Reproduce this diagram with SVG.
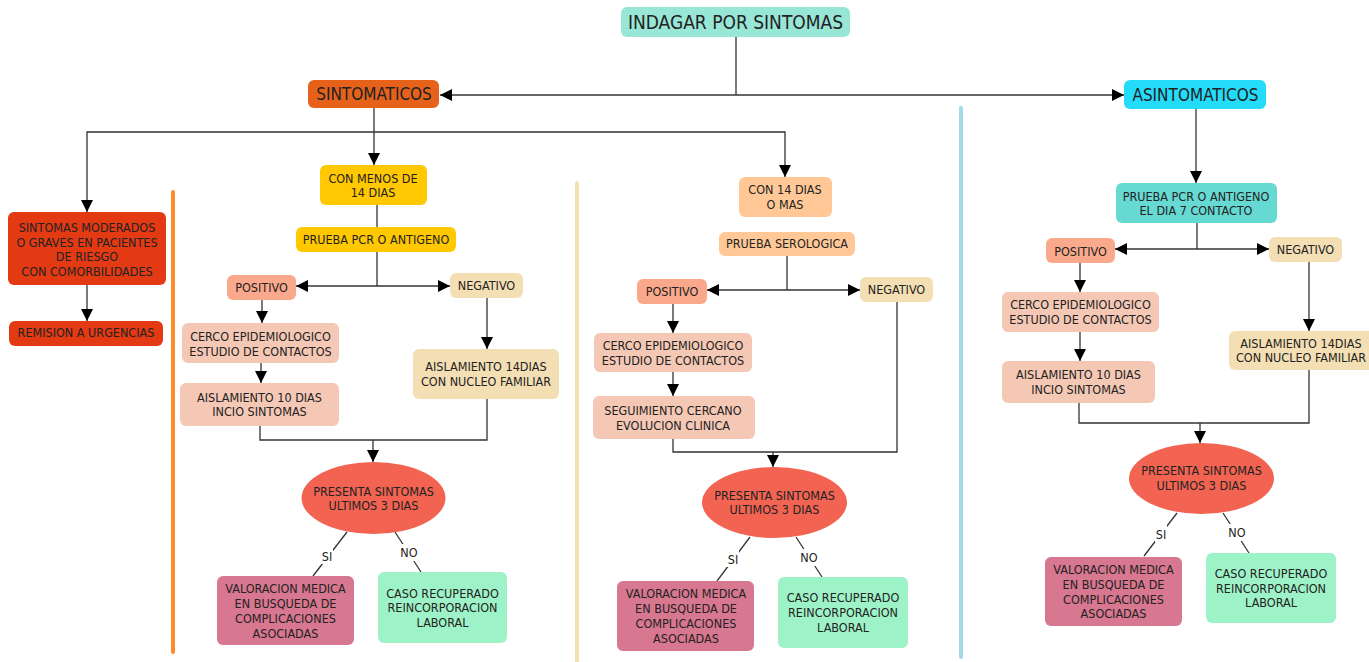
<svg xmlns="http://www.w3.org/2000/svg" width="1369" height="662" viewBox="0 0 1369 662">
<style>
text{font-family:"DejaVu Sans Condensed","DejaVu Sans",sans-serif;font-size:12.5px;fill:#222;text-anchor:middle}
.big{font-size:19px}
.mid{font-size:17px}
.c{fill:none;stroke:#333;stroke-width:1.3}
.ca{fill:none;stroke:#333;stroke-width:1.3;marker-end:url(#ah)}
.lbg{fill:#fff}
</style>
<defs>
<marker id="ah" markerUnits="userSpaceOnUse" markerWidth="12" markerHeight="12" refX="12" refY="6" orient="auto">
<path d="M0,0 L12,6 L0,12 z" fill="#000"/>
</marker>
</defs>
<rect width="1369" height="662" fill="#fff"/>
<g id="separators" stroke-linecap="round" stroke-width="4">
<line x1="173" y1="192" x2="173" y2="652" stroke="#ff8a2a"/>
<line x1="577" y1="183" x2="577" y2="662" stroke="#f1e3a9"/>
<line x1="961" y1="108" x2="961" y2="657" stroke="#a2d9eb"/>
</g>
<g id="connectors">
<path class="c" d="M736,37 V95" stroke="#666"/>
<path class="ca" d="M736,95 H440"/>
<path class="ca" d="M736,95 H1124"/>
<path class="ca" d="M374,108 V165"/>
<path class="ca" d="M374,132 H87 V212"/>
<path class="ca" d="M374,132 H785 V177"/>
<path class="ca" d="M87,285 V321"/>
<path class="c" d="M377,205 V227"/>
<path class="c" d="M377,252 V286"/>
<path class="ca" d="M377,286 H296"/>
<path class="ca" d="M377,286 H450"/>
<path class="ca" d="M262,300 V323"/>
<path class="ca" d="M261,363 V383"/>
<path class="ca" d="M487,298 V349"/>
<path class="c" d="M260,426 V440 H487 V399"/>
<path class="ca" d="M373,440 V462"/>
<path class="c" d="M347,532 L313,576"/>
<path class="c" d="M395,532 L421,572"/>
<path class="c" d="M787,256 V290"/>
<path class="ca" d="M787,290 H707"/>
<path class="ca" d="M787,290 H860"/>
<path class="ca" d="M673,304 V333"/>
<path class="ca" d="M673,372 V396"/>
<path class="c" d="M673,439 V452 H897 V302"/>
<path class="ca" d="M773,452 V467"/>
<path class="c" d="M750,537 L717,581"/>
<path class="c" d="M796,537 L822,577"/>
<path class="ca" d="M1196,109 V183"/>
<path class="c" d="M1197,223 V249"/>
<path class="ca" d="M1197,249 H1115"/>
<path class="ca" d="M1197,249 H1269"/>
<path class="ca" d="M1080,263 V292"/>
<path class="ca" d="M1080,332 V361"/>
<path class="ca" d="M1309,262 V331"/>
<path class="c" d="M1079,403 V423 H1309 V370"/>
<path class="ca" d="M1200,423 V443"/>
<path class="c" d="M1177,513 L1144,556"/>
<path class="c" d="M1223,513 L1249,553"/>
<rect class="lbg" x="321" y="547" width="12" height="17"/>
<text x="327" y="561">SI</text>
<rect class="lbg" x="400" y="544" width="19" height="17"/>
<text x="409" y="557">NO</text>
<rect class="lbg" x="727" y="550" width="12" height="17"/>
<text x="733" y="564">SI</text>
<rect class="lbg" x="800" y="549" width="19" height="17"/>
<text x="809" y="562">NO</text>
<rect class="lbg" x="1155" y="525" width="12" height="17"/>
<text x="1161" y="539">SI</text>
<rect class="lbg" x="1228" y="524" width="19" height="17"/>
<text x="1237" y="537">NO</text>
</g>
<g id="n-title"><rect x="621" y="7" width="229" height="30" rx="6" fill="#98e6d6"/><text class="big" x="735.5" y="29">INDAGAR POR SINTOMAS</text></g>
<g id="n-sintomaticos"><rect x="308" y="80" width="131" height="28" rx="6" fill="#e6621a"/><text class="mid" x="374" y="100">SINTOMATICOS</text></g>
<g id="n-asintomaticos"><rect x="1124" y="80" width="142" height="29" rx="6" fill="#22dcfa"/><text class="mid" x="1195.5" y="100.5">ASINTOMATICOS</text></g>
<g id="n-menos14"><rect x="320" y="165" width="107" height="40" rx="6" fill="#ffc800"/><text x="373" y="183">CON MENOS DE</text><text x="373" y="197">14 DIAS</text></g>
<g id="n-mas14"><rect x="739" y="177" width="93" height="40" rx="6" fill="#ffc896"/><text x="785" y="194">CON 14 DIAS</text><text x="785" y="209">O MAS</text></g>
<g id="n-moderados"><rect x="8" y="212" width="158" height="73" rx="6" fill="#e33a14"/><text x="87" y="232">SINTOMAS MODERADOS</text><text x="87" y="247">O GRAVES EN PACIENTES</text><text x="87" y="261">DE RIESGO</text><text x="87" y="276">CON COMORBILIDADES</text></g>
<g id="n-remision"><rect x="9" y="321" width="154" height="25" rx="6" fill="#e33a14"/><text x="86" y="337">REMISION A URGENCIAS</text></g>
<g id="n-pcr1"><rect x="296" y="227" width="160" height="25" rx="6" fill="#ffc800"/><text x="376" y="244">PRUEBA PCR O ANTIGENO</text></g>
<g id="n-pos1"><rect x="227" y="275" width="69" height="25" rx="6" fill="#fba98c"/><text x="261.5" y="292">POSITIVO</text></g>
<g id="n-neg1"><rect x="450" y="273" width="73" height="25" rx="6" fill="#f4dfb4"/><text x="486.5" y="290">NEGATIVO</text></g>
<g id="n-cerco1"><rect x="182" y="323" width="157" height="40" rx="6" fill="#f5c8b5"/><text x="260.5" y="341">CERCO EPIDEMIOLOGICO</text><text x="260.5" y="356">ESTUDIO DE CONTACTOS</text></g>
<g id="n-ais10a"><rect x="180" y="383" width="159" height="43" rx="6" fill="#f5c8b5"/><text x="259.5" y="402">AISLAMIENTO 10 DIAS</text><text x="259.5" y="416">INCIO SINTOMAS</text></g>
<g id="n-ais14a"><rect x="413" y="349" width="146" height="50" rx="6" fill="#f4dfb4"/><text x="486" y="371">AISLAMIENTO 14DIAS</text><text x="486" y="386">CON NUCLEO FAMILIAR</text></g>
<g id="n-pres1"><ellipse cx="373.5" cy="498" rx="72" ry="36" fill="#f26352"/><text x="373.5" y="496">PRESENTA SINTOMAS</text><text x="373.5" y="510">ULTIMOS 3 DIAS</text></g>
<g id="n-val1"><rect x="217" y="576" width="137" height="69" rx="6" fill="#d87790"/><text x="285.5" y="593">VALORACION MEDICA</text><text x="285.5" y="608">EN BUSQUEDA DE</text><text x="285.5" y="623">COMPLICACIONES</text><text x="285.5" y="638">ASOCIADAS</text></g>
<g id="n-caso1"><rect x="378" y="572" width="129" height="71" rx="6" fill="#9ef2c8"/><text x="442.5" y="598">CASO RECUPERADO</text><text x="442.5" y="612">REINCORPORACION</text><text x="442.5" y="627">LABORAL</text></g>
<g id="n-sero"><rect x="719" y="232" width="136" height="24" rx="6" fill="#ffc896"/><text x="787" y="248">PRUEBA SEROLOGICA</text></g>
<g id="n-pos2"><rect x="637" y="279" width="70" height="25" rx="6" fill="#f9a88c"/><text x="672" y="296">POSITIVO</text></g>
<g id="n-neg2"><rect x="860" y="277" width="73" height="25" rx="6" fill="#f4dfb4"/><text x="896.5" y="294">NEGATIVO</text></g>
<g id="n-cerco2"><rect x="594" y="333" width="158" height="39" rx="6" fill="#f5c8b5"/><text x="673" y="350">CERCO EPIDEMIOLOGICO</text><text x="673" y="365">ESTUDIO DE CONTACTOS</text></g>
<g id="n-seguim"><rect x="593" y="396" width="162" height="43" rx="6" fill="#f5c8b5"/><text x="673" y="415">SEGUIMIENTO CERCANO</text><text x="673" y="430">EVOLUCION CLINICA</text></g>
<g id="n-pres2"><ellipse cx="774.5" cy="502.5" rx="72.5" ry="35.5" fill="#f26352"/><text x="774.5" y="500">PRESENTA SINTOMAS</text><text x="774.5" y="514">ULTIMOS 3 DIAS</text></g>
<g id="n-val2"><rect x="617" y="581" width="137" height="70" rx="6" fill="#d87790"/><text x="686" y="598">VALORACION MEDICA</text><text x="686" y="613">EN BUSQUEDA DE</text><text x="686" y="628">COMPLICACIONES</text><text x="686" y="643">ASOCIADAS</text></g>
<g id="n-caso2"><rect x="778" y="577" width="130" height="71" rx="6" fill="#9ef2c8"/><text x="843" y="602">CASO RECUPERADO</text><text x="843" y="617">REINCORPORACION</text><text x="843" y="632">LABORAL</text></g>
<g id="n-pcr3"><rect x="1116" y="183" width="161" height="40" rx="6" fill="#66d9d2"/><text x="1196" y="201">PRUEBA PCR O ANTIGENO</text><text x="1196" y="215">EL DIA 7 CONTACTO</text></g>
<g id="n-pos3"><rect x="1046" y="238" width="69" height="25" rx="6" fill="#fba98c"/><text x="1080.5" y="256">POSITIVO</text></g>
<g id="n-neg3"><rect x="1269" y="237" width="73" height="25" rx="6" fill="#f4dfb4"/><text x="1305.5" y="254">NEGATIVO</text></g>
<g id="n-cerco3"><rect x="1002" y="292" width="157" height="40" rx="6" fill="#f5c8b5"/><text x="1080.5" y="309">CERCO EPIDEMIOLOGICO</text><text x="1080.5" y="324">ESTUDIO DE CONTACTOS</text></g>
<g id="n-ais10c"><rect x="1002" y="361" width="153" height="42" rx="6" fill="#f5c8b5"/><text x="1078.5" y="379">AISLAMIENTO 10 DIAS</text><text x="1078.5" y="394">INCIO SINTOMAS</text></g>
<g id="n-ais14c"><rect x="1229" y="331" width="146" height="39" rx="6" fill="#f4dfb4"/><text x="1301" y="348">AISLAMIENTO 14DIAS</text><text x="1301" y="362">CON NUCLEO FAMILIAR</text></g>
<g id="n-pres3"><ellipse cx="1201.5" cy="478.5" rx="72.5" ry="35.5" fill="#f26352"/><text x="1201.5" y="475">PRESENTA SINTOMAS</text><text x="1201.5" y="490">ULTIMOS 3 DIAS</text></g>
<g id="n-val3"><rect x="1045" y="557" width="137" height="69" rx="6" fill="#d87790"/><text x="1113.5" y="574">VALORACION MEDICA</text><text x="1113.5" y="589">EN BUSQUEDA DE</text><text x="1113.5" y="604">COMPLICACIONES</text><text x="1113.5" y="618">ASOCIADAS</text></g>
<g id="n-caso3"><rect x="1206" y="553" width="130" height="70" rx="6" fill="#9ef2c8"/><text x="1271" y="578">CASO RECUPERADO</text><text x="1271" y="593">REINCORPORACION</text><text x="1271" y="607">LABORAL</text></g>
</svg>
